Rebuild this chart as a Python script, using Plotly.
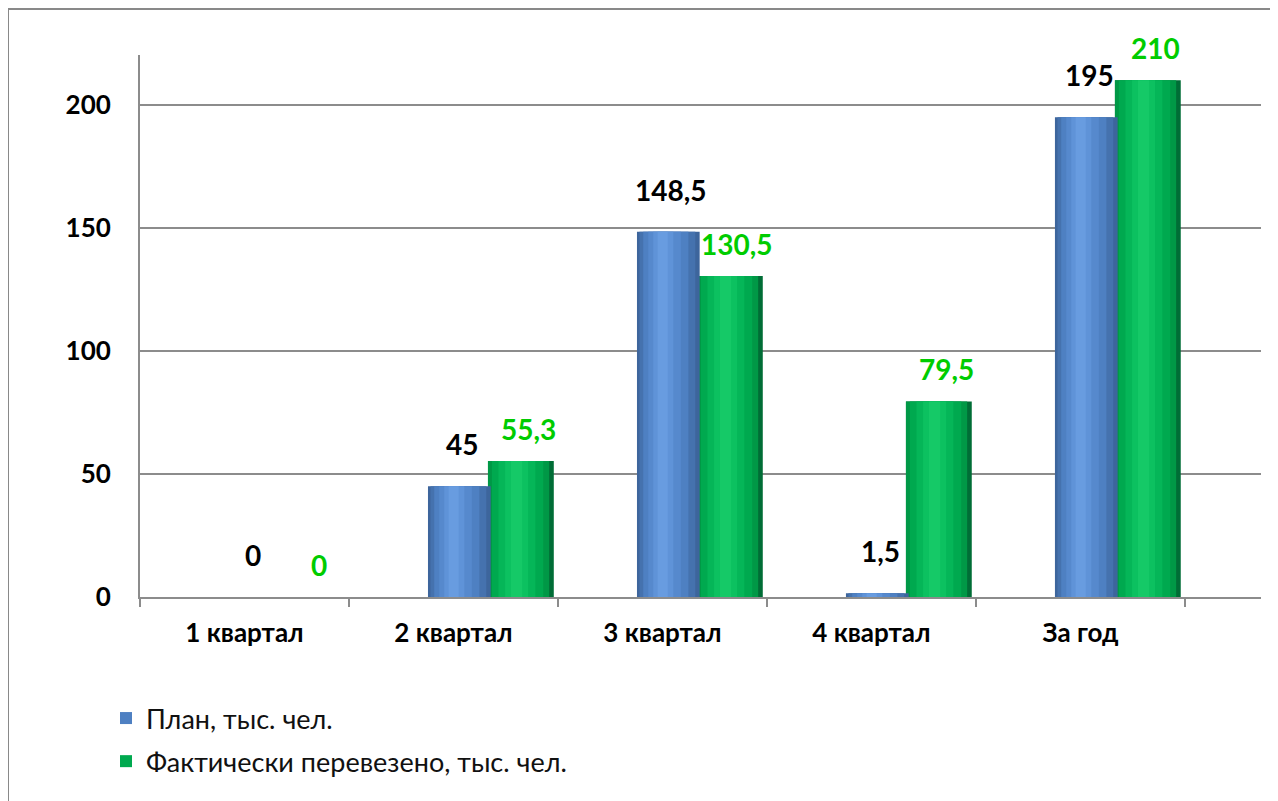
import plotly.graph_objects as go

categories = ["1 квартал", "2 квартал", "3 квартал", "4 квартал", "За год"]
plan = [0, 45, 148.5, 1.5, 195]
fact = [0, 55.3, 130.5, 79.5, 210]
plan_labels = ["0", "45", "148,5", "1,5", "195"]
fact_labels = ["0", "55,3", "130,5", "79,5", "210"]
series_names = ["План, тыс. чел.", "Фактически перевезено, тыс. чел."]
y_ticks = [0, 50, 100, 150, 200]

LABEL_GREEN = "#00cc00"
GRID = "#8c8c8c"
FONT = "Lato"

# cylinder-like shading layers: (left fraction, right fraction, colour, legend?)
blue_layers = [(0.00, 1.00, "#3d659c", False), (0.04, 0.93, "#4572ae", False),
               (0.10, 0.82, "#4e80c2", True), (0.18, 0.70, "#5689cd", False),
               (0.26, 0.58, "#5f93d8", False), (0.33, 0.49, "#689ce0", False)]
green_layers = [(0.00, 1.00, "#006d36", False), (0.00, 0.93, "#009846", False),
                (0.06, 0.84, "#00a94f", True), (0.16, 0.72, "#05b658", False),
                (0.26, 0.61, "#0cc160", False), (0.35, 0.52, "#15c967", False)]

BLUE_OFF, BLUE_W = -0.122, 0.30
GREEN_OFF, GREEN_W = 0.165, 0.315

fig = go.Figure()


def add_series(values, name, group, rank, off, w, layers):
    for lf, rf, col, leg in layers:
        fig.add_trace(go.Bar(
            x=categories, y=values, name=name, legendgroup=group, legendrank=rank,
            showlegend=leg, offset=off + lf * w, width=(rf - lf) * w,
            marker=dict(color=col, line=dict(width=0)), hoverinfo="x+y",
        ))


add_series(fact, series_names[1], "b", 2, GREEN_OFF, GREEN_W, green_layers)
add_series(plan, series_names[0], "a", 1, BLUE_OFF, BLUE_W, blue_layers)

annotations = []
for c, v, t in zip(categories, plan, plan_labels):
    annotations.append(dict(x=c, y=v, text=t, showarrow=False, xshift=9, yshift=42,
                            font=dict(family=FONT, size=28, color="black", weight="bold")))
for c, v, t in zip(categories, fact, fact_labels):
    annotations.append(dict(x=c, y=v, text=t, showarrow=False, xshift=75, yshift=32,
                            font=dict(family=FONT, size=28, color=LABEL_GREEN, weight="bold")))

fig.update_layout(
    width=1270, height=793,
    margin=dict(l=132, r=17, t=47, b=204),
    plot_bgcolor="white", paper_bgcolor="white",
    barmode="overlay",
    font=dict(family=FONT, color="black"),
    annotations=annotations,
    legend=dict(
        x=(106 - 140) / 1121, y=(597 - 694) / 542,
        xanchor="left", yanchor="top", traceorder="grouped", tracegroupgap=5,
        font=dict(family=FONT, size=27, color="#111111"),
        itemwidth=30,
    ),
    xaxis=dict(
        type="category", range=[-0.5, 4.864],
        showline=True, linecolor=GRID, linewidth=2,
        ticks="outside", tickson="boundaries", ticklen=8, tickcolor=GRID, tickwidth=2,
        showgrid=False,
        tickfont=dict(family=FONT, size=26, color="black", weight="bold"),
        ticklabelstandoff=12,
    ),
    yaxis=dict(
        range=[0, 220.3], tickvals=y_ticks,
        showline=True, linecolor=GRID, linewidth=2,
        showgrid=True, gridcolor=GRID, gridwidth=2,
        zeroline=False, ticks="",
        tickfont=dict(family=FONT, size=26, color="black", weight="bold"),
        ticklabelstandoff=22,
    ),
    shapes=[dict(type="rect", xref="paper", yref="paper",
                 x0=(8 - 140) / 1121, x1=1.05, y0=-0.5, y1=(597 - 9) / 542,
                 line=dict(color="#898989", width=2), fillcolor="rgba(0,0,0,0)", layer="below")],
)

fig.write_html("out.html")
